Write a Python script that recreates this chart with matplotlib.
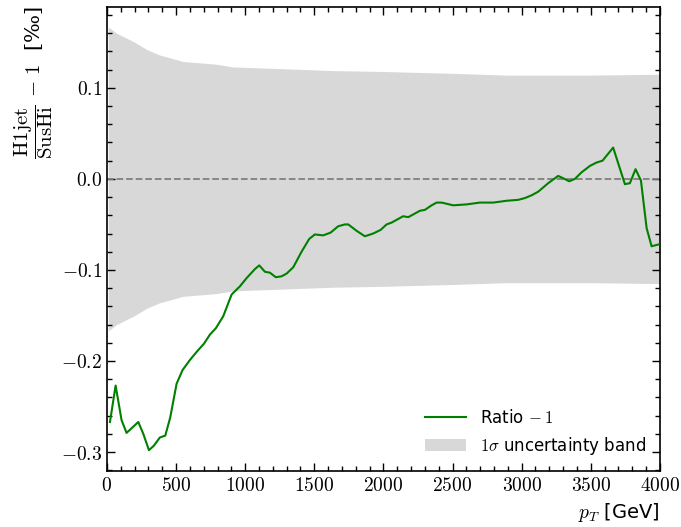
import matplotlib
matplotlib.use("Agg")
import matplotlib.pyplot as plt
from matplotlib.ticker import MultipleLocator, FuncFormatter
import numpy as np

plt.rcParams['mathtext.fontset'] = 'cm'
plt.rcParams['font.family'] = ['DejaVu Sans']

# Ratio - 1 curve (per mille)
pt_ratio = [22, 63, 106, 142, 227, 263, 304, 340, 383, 422, 458, 504, 547, 600, 649, 702,
            745, 788, 841, 902, 962, 1010, 1071, 1102, 1143, 1179, 1222, 1263, 1300, 1348,
            1408, 1463, 1504, 1565, 1618, 1673, 1721, 1746, 1806, 1866, 1926, 1980, 2023,
            2059, 2095, 2143, 2180, 2228, 2264, 2300, 2349, 2385, 2421, 2505, 2602, 2698,
            2795, 2891, 2975, 3024, 3072, 3120, 3192, 3264, 3301, 3344, 3385, 3434, 3494,
            3542, 3585, 3662, 3747, 3783, 3824, 3863, 3904, 3940, 3990]
ratio = [-0.267, -0.227, -0.265, -0.279, -0.267, -0.280, -0.298, -0.293, -0.284, -0.282,
         -0.262, -0.225, -0.210, -0.199, -0.190, -0.181, -0.171, -0.164, -0.151, -0.127,
         -0.118, -0.109, -0.099, -0.095, -0.102, -0.103, -0.108, -0.107, -0.104, -0.097,
         -0.080, -0.066, -0.061, -0.062, -0.059, -0.052, -0.050, -0.050, -0.057, -0.063,
         -0.060, -0.056, -0.050, -0.048, -0.045, -0.041, -0.042, -0.038, -0.035, -0.034,
         -0.029, -0.026, -0.026, -0.029, -0.028, -0.026, -0.026, -0.024, -0.023, -0.021,
         -0.018, -0.014, -0.0047, 0.0033, 0.0007, -0.0026, 0.0, 0.0073, 0.0143, 0.018,
         0.020, 0.0344, -0.0058, -0.0047, 0.0107, -0.0018, -0.054, -0.074, -0.072]

# 1 sigma uncertainty band half-width (per mille)
pt_band = [10, 70, 190, 290, 383, 434, 550, 791, 912, 1276, 1637, 2000, 2500, 2893, 3500, 4000]
band = [0.167, 0.160, 0.151, 0.142, 0.136, 0.134, 0.129, 0.126, 0.123, 0.121, 0.119,
        0.118, 0.116, 0.114, 0.114, 0.115]

fig = plt.figure(figsize=(6.81, 5.27), dpi=100)
ax = fig.add_axes([0.157, 0.106, 0.812, 0.881])

b = np.array(band)
h_band = ax.fill_between(pt_band, -b, b, color='gray', alpha=0.3, linewidth=0,
                         label=r'$1\sigma$ uncertainty band', zorder=1)
ax.axhline(0.0, color='gray', linestyle='--', linewidth=1.3, zorder=2)
h_line, = ax.plot(pt_ratio, ratio, color='green', linewidth=1.5, label=r'Ratio$\,-1$', zorder=3)

ax.set_xlim(0, 4000)
ax.set_ylim(-0.321, 0.189)

ax.xaxis.set_major_locator(MultipleLocator(500))
ax.xaxis.set_minor_locator(MultipleLocator(100))
ax.yaxis.set_major_locator(MultipleLocator(0.1))
ax.yaxis.set_minor_locator(MultipleLocator(0.02))
ax.xaxis.set_major_formatter(FuncFormatter(lambda v, p: rf'${v:.0f}$'))
ax.yaxis.set_major_formatter(FuncFormatter(lambda v, p: rf'${0.0 if abs(v) < 1e-9 else v:.1f}$'))
ax.tick_params(which='both', direction='in', top=True, right=True, labelsize=14)
ax.tick_params(which='major', length=6, width=1)
ax.tick_params(which='minor', length=3.5, width=1)
for s in ax.spines.values():
    s.set_linewidth(1.2)

ax.set_xlabel(r'$p_T$ [GeV]', fontsize=14, loc='right')
ax.set_ylabel(r'$\dfrac{\mathrm{H1jet}}{\mathrm{SusHi}}\,-\,1\ $ [‰]', fontsize=15,
              loc='top', family=['DejaVu Serif'])

ax.legend(handles=[h_line, h_band], loc='lower right', frameon=False, fontsize=12,
          handlelength=2.5, borderaxespad=0.45)

fig.savefig('out.png', dpi=100)
